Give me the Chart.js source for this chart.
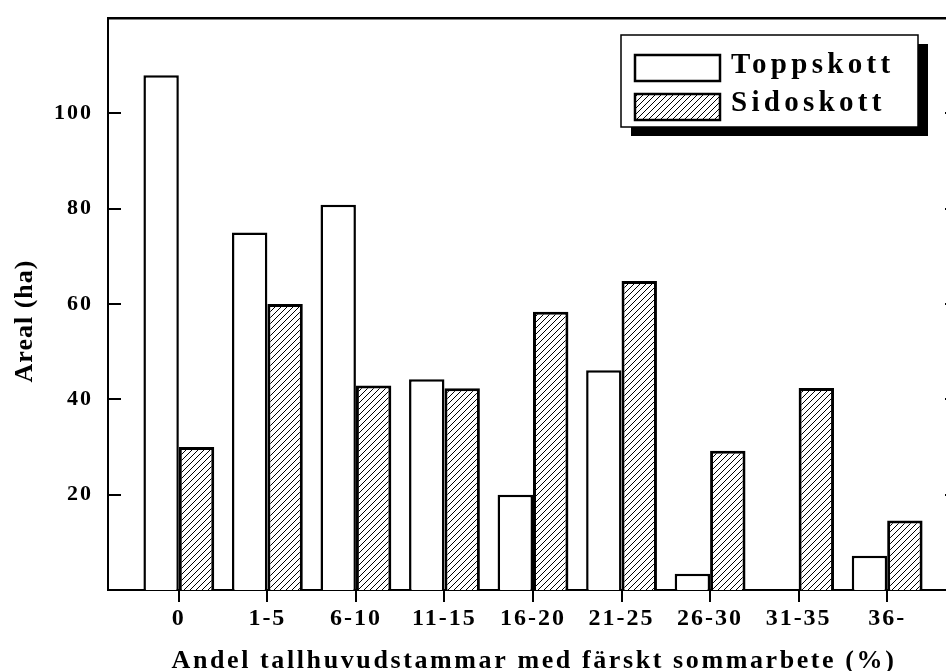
<!DOCTYPE html>
<html>
<head>
<meta charset="utf-8">
<script src="https://cdn.jsdelivr.net/npm/chart.js@4.4.1/dist/chart.umd.min.js"></script>
<style>
  html, body { margin: 0; padding: 0; background: #fff; overflow: hidden; width: 946px; height: 671px; }
  #wrap { width: 960px; height: 671px; }
</style>
</head>
<body>
<div id="wrap"><canvas id="chart"></canvas></div>
<script>
const categories = ["0", "1-5", "6-10", "11-15", "16-20", "21-25", "26-30", "31-35", "36-"];
const toppskott = [108, 75, 80.8, 44.2, 20, 46.1, 3.4, 0, 7.2];
const sidoskott = [30, 60, 42.9, 42.3, 58.4, 64.8, 29.2, 42.4, 14.6];
const yTicks = [20, 40, 60, 80, 100];
const seriesNames = ["Toppskott", "Sidoskott"];
const xTitle = "Andel tallhuvudstammar med färskt sommarbete (%)";
const yTitle = "Areal (ha)";

const serif = "'Liberation Serif', 'Times New Roman', serif";

// hachures obliques pour Sidoskott
function makeHatch(ctx) {
  const c = document.createElement("canvas");
  c.width = 6;
  c.height = 6;
  const g = c.getContext("2d");
  g.fillStyle = "#fff";
  g.fillRect(0, 0, 6, 6);
  g.strokeStyle = "#000";
  g.lineWidth = 1;
  g.beginPath();
  g.moveTo(0, 6); g.lineTo(6, 0);
  g.moveTo(-1, 1); g.lineTo(1, -1);
  g.moveTo(5, 7); g.lineTo(7, 5);
  g.stroke();
  return ctx.createPattern(c, "repeat");
}

const canvas = document.getElementById("chart");
const hatch = makeHatch(canvas.getContext("2d"));

const framePlugin = {
  id: "frame",
  beforeDraw(chart) {
    chart.ctx.letterSpacing = "2px";
  },
  afterDraw(chart) {
    const ctx = chart.ctx;
    const area = chart.chartArea;
    const x = chart.scales.x;
    const y = chart.scales.y;
    ctx.save();
    ctx.letterSpacing = "0px";
    ctx.strokeStyle = "#000";
    ctx.fillStyle = "#000";

    // ligne du haut
    ctx.fillRect(area.left - 1, area.top - 1, area.right - area.left + 1, 2.5);

    // graduations vers l'intérieur (gauche et droite)
    yTicks.forEach((v) => {
      const py = Math.round(y.getPixelForValue(v));
      ctx.fillRect(area.left - 1, py - 1, 14, 2);
      ctx.fillRect(area.right - 13, py - 1, 13, 2);
    });
    // graduations de l'axe x, vers l'extérieur
    categories.forEach((c, i) => {
      const px = Math.round(x.getPixelForValue(i));
      ctx.fillRect(px - 1, area.bottom, 2, 12);
    });

    // titres des axes
    ctx.font = "bold 26px " + serif;
    ctx.letterSpacing = "2.6px";
    ctx.textAlign = "center";
    ctx.textBaseline = "alphabetic";
    ctx.fillText(xTitle, 534, 668);

    ctx.save();
    ctx.translate(32, 321);
    ctx.rotate(-Math.PI / 2);
    ctx.letterSpacing = "1px";
    ctx.fillText(yTitle, 0, 0);
    ctx.restore();

    // légende avec ombre
    ctx.fillRect(631, 44, 297, 92);
    ctx.fillStyle = "#fff";
    ctx.fillRect(621, 35, 297, 92);
    ctx.lineWidth = 1.5;
    ctx.strokeRect(621, 35, 297, 92);

    ctx.lineWidth = 2.5;
    ctx.fillStyle = "#fff";
    ctx.fillRect(635, 55, 85, 26);
    ctx.strokeRect(635, 55, 85, 26);
    ctx.fillStyle = hatch;
    ctx.fillRect(635, 94, 85, 26);
    ctx.strokeRect(635, 94, 85, 26);

    ctx.fillStyle = "#000";
    ctx.font = "bold 29px " + serif;
    ctx.letterSpacing = "4.3px";
    ctx.textAlign = "left";
    ctx.fillText(seriesNames[0], 731, 73);
    ctx.fillText(seriesNames[1], 731, 111);

    ctx.restore();
  },
};

new Chart(canvas, {
  type: "bar",
  data: {
    datasets: [
      {
        label: seriesNames[0],
        data: toppskott.map((v, i) => ({ x: i, y: v })),
        backgroundColor: "#fff",
        borderColor: "#000",
        borderWidth: 2.5,
        borderSkipped: "start",
      },
      {
        label: seriesNames[1],
        data: sidoskott.map((v, i) => ({ x: i, y: v })),
        backgroundColor: hatch,
        borderColor: "#000",
        borderWidth: 3,
        borderSkipped: "start",
      },
    ],
  },
  options: {
    responsive: true,
    maintainAspectRatio: false,
    animation: false,
    categoryPercentage: 0.8,
    barPercentage: 1,
    layout: { padding: { top: 18, right: 2, bottom: 0, left: 0 } },
    plugins: {
      legend: { display: false },
      tooltip: { enabled: false },
    },
    scales: {
      x: {
        type: "linear",
        min: -0.8,
        max: 8.8,
        offset: false,
        afterBuildTicks: (scale) => {
          scale.ticks = categories.map((c, i) => ({ value: i }));
        },
        afterFit: (scale) => {
          scale.height = 81;
          scale.paddingLeft = 0;
          scale.paddingRight = 0;
        },
        ticks: {
          callback: (v) => categories[v],
          color: "#000",
          font: { family: serif, size: 24, weight: "bold" },
          padding: 6,
          maxRotation: 0,
          autoSkip: false,
        },
        grid: { display: false, offset: false },
        border: { display: true, color: "#000", width: 2 },
      },
      y: {
        min: 0,
        max: 120,
        afterBuildTicks: (scale) => {
          scale.ticks = yTicks.map((v) => ({ value: v }));
        },
        afterFit: (scale) => {
          scale.width = 108;
          scale.paddingTop = 0;
          scale.paddingBottom = 0;
        },
        ticks: {
          color: "#000",
          font: { family: serif, size: 22, weight: "bold" },
          padding: 15,
        },
        grid: { display: false, drawTicks: false },
        border: { display: true, color: "#000", width: 2 },
      },
    },
  },
  plugins: [framePlugin],
});
</script>
</body>
</html>
